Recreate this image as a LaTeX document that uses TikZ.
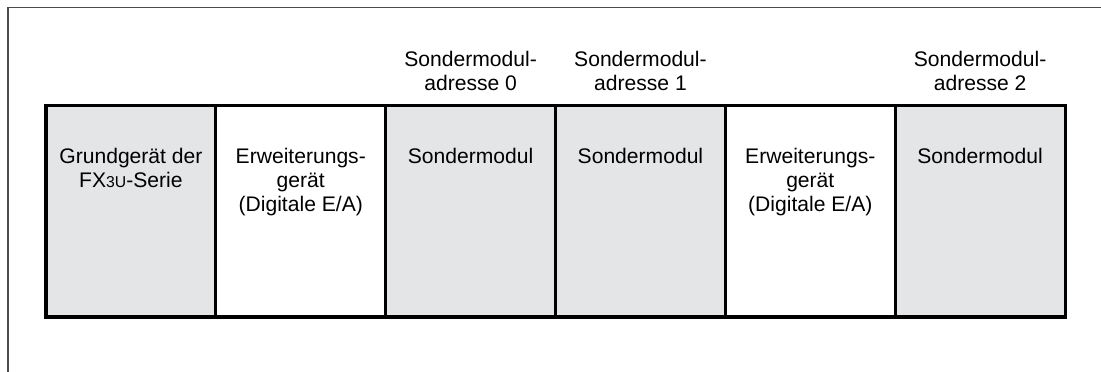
\documentclass[tikz,border=0pt]{standalone}
\usepackage{fontspec}
\setmainfont{Liberation Sans}
\usetikzlibrary{positioning,calc}
\definecolor{modgray}{HTML}{E4E5E7}
\definecolor{framegray}{HTML}{4A4A4A}
\newcommand{\boxfont}{\fontsize{15}{17.2}\selectfont}
\newcommand{\smallcap}[1]{{\fontsize{11.2}{12}\selectfont #1}}

\begin{document}
\begin{tikzpicture}[x=0.025cm,y=0.025cm,
    unitbox/.style={draw=black, line width=2.2pt, minimum width=4.245cm,
      minimum height=5.275cm, inner sep=0pt, outer sep=0pt},
    grundbox/.style={unitbox, fill=modgray},
    erwbox/.style={unitbox, fill=white},
    boxtext/.style={anchor=base, inner sep=0pt, font=\boxfont}]
    \useasboundingbox (0,0) rectangle (1101,372);
    % Frame
    \draw[framegray, line width=0.95pt] (8,0) -- (8,364.5) -- (1101,364.5);
    % Units of the system, left to right
    \node[grundbox, anchor=south west] (grund) at (46,55) {};
    \node[erwbox, right=0pt of grund] (erw1) {};
    \node[grundbox, right=0pt of erw1] (smod0) {};
    \node[grundbox, right=0pt of smod0] (smod1) {};
    \node[erwbox, right=0pt of smod1] (erw2) {};
    \node[grundbox, right=0pt of erw2] (smod2) {};
    % Texts inside the units
    \node[boxtext] (tgrund) at ($(grund.north)+(0,-57.3)$)
        {\begin{tabular}[t]{@{}c@{}}Grundgerät der\\FX\smallcap{3U}-Serie\end{tabular}};
    \foreach \e in {erw1, erw2}
        \node[boxtext] (t\e) at ($(\e.north)+(0,-57.3)$)
            {\begin{tabular}[t]{@{}c@{}}Erweiterungs-\\gerät\\(Digitale E/A)\end{tabular}};
    \foreach \s in {smod0, smod1, smod2}
        \node[boxtext] (t\s) at ($(\s.north)+(0,-57.3)$) {Sondermodul};
    % Addresses above the special modules
    \foreach \s/\n in {smod0/0, smod1/1, smod2/2}
        \node[boxtext] (adr\n) at ($(\s.north)+(0,39.3)$)
            {\begin{tabular}[t]{@{}c@{}}Sondermodul-\\adresse \n\end{tabular}};
\end{tikzpicture}
\end{document}
